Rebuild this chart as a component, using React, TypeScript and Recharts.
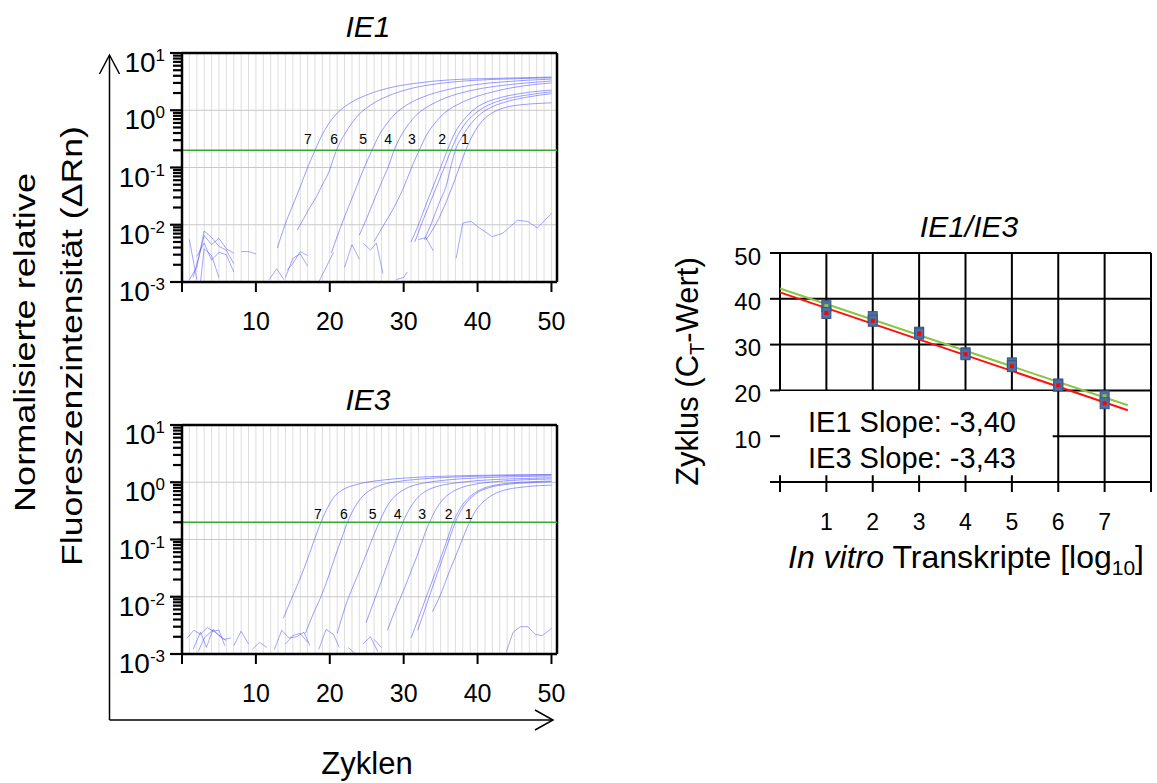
import {
  LineChart,
  Line,
  XAxis,
  YAxis,
  ReferenceLine,
  ReferenceDot,
  ReferenceArea,
  ComposedChart,
  Scatter,
  CartesianGrid,
} from "recharts";

type Pt = [number, number];

const FONT = "'Liberation Sans', Arial, Helvetica, sans-serif";
const CURVE = "#3a3aff";

// ---- IE1 amplification runs: [cycle, ΔRn] ----
const ie1Dil7: Pt[] = [[12.9, 0.0039], [14, 0.0105], [15, 0.022], [16, 0.046], [17, 0.1], [18, 0.2], [19, 0.38], [20, 0.62], [21, 0.89], [22, 1.15], [23, 1.4], [25, 1.85], [28, 2.45], [32, 3.0], [36, 3.38], [43, 3.62], [50, 3.8]];
const ie1Dil6: Pt[] = [[15.6, 0.0081], [16.5, 0.013], [17.3, 0.02], [18.2, 0.031], [19, 0.05], [19.8, 0.079], [20.9, 0.2], [22, 0.38], [23, 0.6], [24, 0.86], [25, 1.1], [26, 1.35], [28, 1.8], [31, 2.4], [35, 2.95], [39, 3.3], [45, 3.55], [50, 3.7]];
const ie1Dil5: Pt[] = [[20.2, 0.0032], [21.5, 0.0093], [22.5, 0.02], [23.5, 0.042], [24.6, 0.095], [25.7, 0.2], [26.7, 0.37], [27.7, 0.58], [28.7, 0.83], [29.7, 1.07], [30.7, 1.3], [32.7, 1.72], [35.7, 2.25], [39.7, 2.8], [43.7, 3.15], [50, 3.5]];
const ie1Dil4: Pt[] = [[24.0, 0.0066], [25, 0.013], [26, 0.027], [27, 0.055], [28, 0.11], [28.7, 0.2], [29.7, 0.37], [30.7, 0.58], [31.7, 0.82], [32.7, 1.04], [33.7, 1.25], [35.7, 1.65], [38.7, 2.15], [42.7, 2.65], [46.7, 3.0], [50, 3.25]];
const ie1Dil3: Pt[] = [[26.0, 0.0051], [27, 0.0085], [28, 0.014], [29, 0.024], [30, 0.045], [31, 0.095], [32.1, 0.2], [33.1, 0.37], [34.1, 0.57], [35.1, 0.8], [36.1, 1.02], [37.1, 1.22], [39.1, 1.6], [42.1, 2.1], [46.1, 2.65], [50, 3.0]];
const ie1Dil2a: Pt[] = [[31, 0.005], [32, 0.01], [33, 0.022], [34, 0.047], [35, 0.1], [35.9, 0.2], [37, 0.42], [38, 0.65], [39, 0.9], [40, 1.15], [41, 1.35], [43, 1.65], [46, 1.98], [50, 2.25]];
const ie1Dil2b: Pt[] = [[31.5, 0.005], [32.5, 0.011], [33.5, 0.023], [34.5, 0.048], [35.5, 0.1], [36.4, 0.2], [37.4, 0.38], [38.4, 0.6], [39.4, 0.82], [40.4, 1.03], [41.4, 1.22], [43.4, 1.52], [46.4, 1.82], [50, 2.1]];
const ie1Dil1a: Pt[] = [[32.8, 0.0055], [33.8, 0.011], [34.8, 0.024], [35.8, 0.05], [36.5, 0.12], [37.0, 0.2], [38, 0.36], [39, 0.56], [40, 0.78], [41, 0.98], [42, 1.15], [44, 1.42], [47, 1.72], [50, 1.95]];
const ie1Dil1b: Pt[] = [[33.0, 0.0054], [34, 0.0085], [35, 0.015], [36, 0.03], [37, 0.065], [37.8, 0.125], [38.4, 0.2], [39.4, 0.38], [40.4, 0.6], [41.4, 0.8], [42.4, 0.96], [44, 1.14], [46, 1.25], [48, 1.31], [50, 1.35]];

// background / no-template traces (IE1)
const ie1Noise1: Pt[] = [[1, 0.0055], [2, 0.0011]];
const ie1Noise2: Pt[] = [[1, 0.0011], [2, 0.0018], [3, 0.0078], [4, 0.006], [5, 0.0042], [6, 0.0036], [7, 0.0021]];
const ie1Noise3: Pt[] = [[1.5, 0.0012], [2.5, 0.0035], [3, 0.0065], [4, 0.0045], [5, 0.0058], [6, 0.0038], [7, 0.0032]];
const ie1Noise4: Pt[] = [[2, 0.0028], [3, 0.0048], [4, 0.0024], [5, 0.0033], [6, 0.003], [7, 0.0015]];
const ie1Noise5: Pt[] = [[2.5, 0.001], [3, 0.0038], [4, 0.0029], [5, 0.0012]];
const ie1Noise6: Pt[] = [[8, 0.0034], [9, 0.0034], [10, 0.0031]];
const ie1Noise7: Pt[] = [[11.8, 0.0011], [12.8, 0.0017], [13.8, 0.0011]];
const ie1Noise8: Pt[] = [[14, 0.0012], [15, 0.0026], [16, 0.0031], [17, 0.0019]];
const ie1Noise9: Pt[] = [[14.2, 0.0016], [15, 0.0021], [16, 0.0034], [17, 0.0029]];
const ie1Noise10: Pt[] = [[17.5, 0.001], [18.5, 0.001], [19.5, 0.0018], [20.5, 0.0033]];
const ie1Noise11: Pt[] = [[22, 0.0018], [23, 0.0045], [24, 0.0025]];
const ie1Noise12: Pt[] = [[24.5, 0.0048], [25.5, 0.0036], [26.3, 0.0048], [27.2, 0.0014]];
const ie1Noise13: Pt[] = [[29, 0.0011], [30, 0.0012], [30.5, 0.0015]];
const ie1Noise14: Pt[] = [[32, 0.0055], [33, 0.006], [34, 0.0035]];
const ie1Ntc: Pt[] = [[37.1, 0.0026], [38, 0.0107], [39.1, 0.0115], [40, 0.0093], [42, 0.0062], [43.4, 0.0071], [45.4, 0.012], [46.8, 0.0114], [48.1, 0.0088], [50, 0.0158]];

// ---- IE3 amplification runs ----
const ie3Dil7: Pt[] = [[13.7, 0.0042], [14.7, 0.0085], [15.7, 0.017], [16.7, 0.036], [17.8, 0.09], [18.8, 0.2], [19.7, 0.36], [20.6, 0.56], [21.6, 0.72], [23.3, 0.89], [25, 1.0], [27.4, 1.1], [30, 1.18], [34.2, 1.26], [40, 1.32], [50, 1.37]];
const ie3Dil6: Pt[] = [[16.7, 0.0023], [17.7, 0.0048], [18.8, 0.01], [19.8, 0.022], [20.6, 0.045], [21.5, 0.095], [22.4, 0.2], [23.4, 0.37], [24.4, 0.56], [25.4, 0.72], [27, 0.9], [29, 1.02], [32, 1.13], [36, 1.22], [42, 1.29], [50, 1.34]];
const ie3Dil5: Pt[] = [[21.0, 0.0023], [22.4, 0.0087], [23.4, 0.018], [24.4, 0.037], [25.5, 0.085], [26.7, 0.2], [27.7, 0.37], [28.7, 0.55], [29.7, 0.7], [31, 0.85], [33, 0.98], [36, 1.1], [40, 1.19], [45, 1.25], [50, 1.29]];
const ie3Dil4: Pt[] = [[24.9, 0.0035], [26, 0.0085], [27, 0.019], [28, 0.044], [29, 0.1], [29.9, 0.2], [30.9, 0.36], [31.9, 0.54], [32.9, 0.69], [34.5, 0.84], [37, 0.97], [40, 1.07], [45, 1.15], [50, 1.2]];
const ie3Dil3: Pt[] = [[27.8, 0.0026], [29, 0.0065], [30, 0.013], [31, 0.028], [32, 0.06], [32.8, 0.12], [33.5, 0.2], [34.5, 0.36], [35.5, 0.53], [36.5, 0.67], [38, 0.82], [40, 0.94], [43, 1.04], [46, 1.1], [50, 1.14]];
const ie3Dil2a: Pt[] = [[31.0, 0.0019], [32, 0.0042], [33, 0.0095], [34, 0.021], [35, 0.047], [35.9, 0.1], [36.7, 0.2], [37.7, 0.36], [38.7, 0.52], [39.7, 0.66], [41, 0.8], [43, 0.92], [46, 1.0], [50, 1.05]];
const ie3Dil2b: Pt[] = [[31.9, 0.0026], [33, 0.0067], [34, 0.016], [35, 0.037], [36, 0.087], [37, 0.2], [38, 0.36], [39, 0.52], [40, 0.66], [41.5, 0.8], [44, 0.92], [47, 0.98], [50, 1.02]];
const ie3Dil1: Pt[] = [[33.9, 0.0055], [35, 0.011], [36, 0.024], [37, 0.05], [38, 0.105], [38.9, 0.2], [39.9, 0.34], [40.9, 0.47], [42, 0.6], [43.5, 0.72], [46, 0.82], [50, 0.89]];

const ie3Noise1: Pt[] = [[0.7, 0.0019], [1.6, 0.0026], [2.5, 0.0022], [3.4, 0.0029], [4.5, 0.0024], [5.7, 0.0018], [6.6, 0.0019]];
const ie3Noise2: Pt[] = [[1.5, 0.0012], [2.5, 0.0024], [3.3, 0.0013], [4.2, 0.0027], [5.0, 0.0021], [6, 0.0017]];
const ie3Noise3: Pt[] = [[2.2, 0.0011], [3, 0.0019], [4, 0.0025], [5, 0.0026], [5.8, 0.0014]];
const ie3Noise4: Pt[] = [[7, 0.0014], [8, 0.0025], [9, 0.0015]];
const ie3Noise5: Pt[] = [[9.5, 0.0012], [10.5, 0.0016], [11.5, 0.0013]];
const ie3Noise6: Pt[] = [[12.5, 0.0012], [13.5, 0.0026], [14.5, 0.0019], [15.5, 0.002], [16.5, 0.0024], [17.3, 0.0014]];
const ie3Noise7: Pt[] = [[14, 0.0015], [15, 0.0021], [16, 0.0023], [17, 0.0016]];
const ie3Noise8: Pt[] = [[18.5, 0.0012], [19.5, 0.0027], [20.5, 0.0022], [21.3, 0.0013]];
const ie3Noise9: Pt[] = [[22.5, 0.0013], [23.5, 0.001]];
const ie3Noise10: Pt[] = [[24.5, 0.0015], [25.5, 0.002], [26.5, 0.0011]];
const ie3Noise11: Pt[] = [[26, 0.0018], [27, 0.0013]];
const ie3Ntc: Pt[] = [[43.9, 0.0011], [44.8, 0.0024], [45.8, 0.003], [46.8, 0.003], [47.8, 0.0022], [48.8, 0.0021], [50, 0.0028]];

// dilution labels next to the threshold
const dilutionLabels = ["7", "6", "5", "4", "3", "2", "1"];
const ie1LabelCycles = [17.05, 20.6, 24.5, 27.9, 31.1, 35.2, 38.3];
const ie3LabelCycles = [18.4, 21.9, 25.8, 29.2, 32.5, 36.1, 38.8];
const ie1LabelLevel = 0.315;
const ie3LabelLevel = 0.279;

const threshold = 0.2;
const cycleTicks = [0, 10, 20, 30, 40, 50];
const cycleMax = 50.75;
const decades = [0.001, 0.01, 0.1, 1, 10];
const minorSteps = [2, 3, 4, 5, 6, 7, 8, 9];
const logTicks = decades.flatMap((d) =>
  d < 10 ? [d, ...minorSteps.map((m) => +(m * d).toPrecision(3))] : [d]
);
const cycleGrid = Array.from({ length: 50 }, (_, i) => i + 1);

// ---- standard curve (Ct vs. log10 copies) ----
const dilutions = [1, 2, 3, 4, 5, 6, 7];
const ie1Ct = [38.4, 36.0, 32.6, 28.1, 25.9, 21.3, 18.7];
const ie3Ct = [36.9, 35.2, 32.4, 27.9, 25.3, 21.1, 17.2];
const ie1Slope = -3.4;
const ie1Intercept = 42.25;
const ie3Slope = -3.43;
const ie3Intercept = 41.4;
const fitRange = [0, 7.5];
const logTicksX = [0, 1, 2, 3, 4, 5, 6, 7, 8];
const ctTicks = [0, 10, 20, 30, 40, 50];

const toPts = (c: Pt[]) => c.map(([x, y]) => ({ x, y }));
const fmtSlope = (s: number) => s.toFixed(2).replace(".", ",");

const LogTick = (p: any) => {
  const { x, y, payload } = p;
  const lg = Math.log10(payload.value);
  const exp = Math.round(lg);
  const major = Math.abs(lg - exp) < 1e-6;
  return (
    <g>
      <line x1={x - (major ? 12 : 9)} x2={x} y1={y} y2={y} stroke="#000" strokeWidth={2.2} />
      {major && (
        <text x={x - 17} y={y + 19} textAnchor="end" fontSize={28} fontFamily={FONT} fill="#000">
          10
          <tspan dy={-11} fontSize={17}>
            {exp}
          </tspan>
        </text>
      )}
    </g>
  );
};

const CycleTick = (p: any) => {
  const { x, y, payload } = p;
  if (payload.value === 0) return <g />;
  return (
    <text x={x} y={y + 36} textAnchor="middle" fontSize={25} fontFamily={FONT} fill="#000">
      {payload.value}
    </text>
  );
};

interface AmpPanelProps {
  top: number;
  curves: Pt[][];
  noise: Pt[][];
  labelCycles: number[];
  labelLevel: number;
}

const AmpPanel = ({ top, curves, noise, labelCycles, labelLevel }: AmpPanelProps) => (
  <div style={{ position: "absolute", left: 99, top }}>
    <LineChart width={490} height={310} margin={{ top: 13, right: 32, left: 0, bottom: 13 }}>
      <XAxis
        dataKey="x"
        type="number"
        domain={[0, cycleMax]}
        ticks={cycleTicks}
        interval={0}
        allowDataOverflow
        tickSize={10}
        height={55}
        axisLine={{ stroke: "#000", strokeWidth: 2.5 }}
        tickLine={{ stroke: "#000", strokeWidth: 2 }}
        tick={CycleTick}
      />
      <YAxis
        dataKey="y"
        type="number"
        scale="log"
        domain={[0.001, 10]}
        allowDataOverflow
        ticks={logTicks}
        interval={0}
        width={83}
        tickSize={0}
        tickMargin={0}
        tickLine={false}
        axisLine={{ stroke: "#000", strokeWidth: 2.5 }}
        tick={LogTick}
      />
      {cycleGrid.map((c) => (
        <ReferenceLine key={`c${c}`} x={c} stroke="#dedede" strokeWidth={1} />
      ))}
      {[0.01, 0.1, 1].map((v) => (
        <ReferenceLine key={`d${v}`} y={v} stroke="#c8c8c8" strokeWidth={1} />
      ))}
      <ReferenceLine y={10} stroke="#000" strokeWidth={2.5} />
      <ReferenceLine x={cycleMax} stroke="#000" strokeWidth={2.5} />
      {noise.map((n, i) => (
        <Line
          key={`n${i}`}
          data={toPts(n)}
          dataKey="y"
          type="linear"
          stroke={CURVE}
          strokeOpacity={0.45}
          strokeWidth={1}
          dot={false}
          isAnimationActive={false}
        />
      ))}
      {curves.map((c, i) => (
        <Line
          key={`a${i}`}
          data={toPts(c)}
          dataKey="y"
          type="monotone"
          stroke={CURVE}
          strokeOpacity={0.5}
          strokeWidth={1}
          dot={false}
          isAnimationActive={false}
        />
      ))}
      <ReferenceLine y={threshold} stroke="#33a833" strokeWidth={1.5} />
      {dilutionLabels.map((lab, i) => (
        <ReferenceDot
          key={`l${lab}`}
          x={labelCycles[i]}
          y={labelLevel}
          r={1}
          shape={(p: any) => (
            <text x={p.cx} y={p.cy + 5} textAnchor="middle" fontSize={14} fontFamily={FONT} fill="#000">
              {lab}
            </text>
          )}
        />
      ))}
    </LineChart>
  </div>
);

const StdMarker = (inner: string) => (p: any) => (
  <g>
    <rect x={p.cx - 4.5} y={p.cy - 5.5} width={9} height={11} fill="#4f6ea2" stroke="#36568a" strokeWidth={1} />
    <rect x={p.cx - 2} y={p.cy - 2} width={4} height={4} fill={inner} />
  </g>
);

const StdXTick = (p: any) => {
  const { x, y, payload } = p;
  if (payload.value < 1 || payload.value > 7) return <g />;
  return (
    <text x={x} y={y + 36} textAnchor="middle" fontSize={23} fontFamily={FONT} fill="#000">
      {payload.value}
    </text>
  );
};

const StdYTick = (p: any) => {
  const { x, y, payload } = p;
  if (payload.value === 0) return <g />;
  return (
    <text x={x} y={y + 11.5} textAnchor="end" fontSize={24} fontFamily={FONT} fill="#000">
      {payload.value}
    </text>
  );
};

const StandardCurve = () => {
  const pts1 = dilutions.map((x, i) => ({ x, y: ie1Ct[i] }));
  const pts3 = dilutions.map((x, i) => ({ x, y: ie3Ct[i] }));
  const fit1 = fitRange.map((x) => ({ x, y: ie1Intercept + ie1Slope * x }));
  const fit3 = fitRange.map((x) => ({ x, y: ie3Intercept + ie3Slope * x }));
  return (
    <div style={{ position: "absolute", left: 690, top: 240 }}>
      <ComposedChart width={465} height={320} margin={{ top: 13, right: 4, left: 0, bottom: 38 }}>
        <CartesianGrid stroke="#000" strokeWidth={2} />
        <XAxis
          dataKey="x"
          type="number"
          domain={[0, 8]}
          ticks={logTicksX}
          interval={0}
          tickSize={10}
          height={40}
          axisLine={{ stroke: "#000", strokeWidth: 2 }}
          tickLine={{ stroke: "#000", strokeWidth: 2 }}
          tick={StdXTick}
        />
        <YAxis
          dataKey="y"
          type="number"
          domain={[0, 50]}
          ticks={ctTicks}
          interval={0}
          width={90}
          axisLine={false}
          tickSize={10}
          tickMargin={9}
          tickLine={{ stroke: "#000", strokeWidth: 2 }}
          tick={StdYTick}
        />
        <ReferenceArea
          x1={-0.05}
          x2={5.88}
          y1={1.5}
          y2={19.85}
          fill="#fff"
          fillOpacity={1}
          stroke="none"
          ifOverflow="visible"
        />
        <Line data={fit1} dataKey="y" type="linear" stroke="#8cc63f" strokeWidth={2} dot={false} isAnimationActive={false} />
        <Line data={fit3} dataKey="y" type="linear" stroke="#ff1010" strokeWidth={2} dot={false} isAnimationActive={false} />
        <Scatter data={pts1} dataKey="y" shape={StdMarker("#8cc63f")} isAnimationActive={false} />
        <Scatter data={pts3} dataKey="y" shape={StdMarker("#ff0000")} isAnimationActive={false} />
      </ComposedChart>
    </div>
  );
};

export default function App() {
  const txt = { fontFamily: FONT, fill: "#000" };
  return (
    <div
      style={{
        position: "absolute",
        left: 0,
        top: 0,
        width: 1157,
        height: 783,
        background: "#fff",
        overflow: "hidden",
      }}
    >
      <AmpPanel
        top={40}
        curves={[ie1Dil7, ie1Dil6, ie1Dil5, ie1Dil4, ie1Dil3, ie1Dil2a, ie1Dil2b, ie1Dil1a, ie1Dil1b]}
        noise={[ie1Noise1, ie1Noise2, ie1Noise3, ie1Noise4, ie1Noise5, ie1Noise6, ie1Noise7, ie1Noise8, ie1Noise9, ie1Noise10, ie1Noise11, ie1Noise12, ie1Noise13, ie1Noise14, ie1Ntc]}
        labelCycles={ie1LabelCycles}
        labelLevel={ie1LabelLevel}
      />
      <AmpPanel
        top={412}
        curves={[ie3Dil7, ie3Dil6, ie3Dil5, ie3Dil4, ie3Dil3, ie3Dil2a, ie3Dil2b, ie3Dil1]}
        noise={[ie3Noise1, ie3Noise2, ie3Noise3, ie3Noise4, ie3Noise5, ie3Noise6, ie3Noise7, ie3Noise8, ie3Noise9, ie3Noise10, ie3Noise11, ie3Ntc]}
        labelCycles={ie3LabelCycles}
        labelLevel={ie3LabelLevel}
      />
      <StandardCurve />

      <svg width={1157} height={783} style={{ position: "absolute", left: 0, top: 0, pointerEvents: "none" }}>
        {/* panel titles */}
        <text x={368} y={37} textAnchor="middle" fontSize={30} fontStyle="italic" {...txt}>IE1</text>
        <text x={368} y={410} textAnchor="middle" fontSize={30} fontStyle="italic" {...txt}>IE3</text>
        <text x={969} y={237} textAnchor="middle" fontSize={30} fontStyle="italic" {...txt}>IE1/IE3</text>

        {/* shared axes arrows */}
        <line x1={109.5} y1={720} x2={109.5} y2={56} stroke="#000" strokeWidth={1.5} />
        <polyline points="99.5,74 109.5,55 119.5,74" fill="none" stroke="#000" strokeWidth={1.5} />
        <line x1={109.5} y1={720} x2={552} y2={720} stroke="#000" strokeWidth={1.5} />
        <polyline points="535,710 553,720 535,730" fill="none" stroke="#000" strokeWidth={1.5} />

        <text transform="translate(35,342.5) rotate(-90)" textAnchor="middle" fontSize={30} textLength={339} lengthAdjust="spacingAndGlyphs" {...txt}>
          Normalisierte relative
        </text>
        <text transform="translate(82,346) rotate(-90)" textAnchor="middle" fontSize={30} textLength={440} lengthAdjust="spacingAndGlyphs" {...txt}>
          {"Fluoreszenzintensität  (ΔRn)"}
        </text>
        <text x={367} y={774} textAnchor="middle" fontSize={31} {...txt}>Zyklen</text>

        <text transform="translate(698,371.5) rotate(-90)" textAnchor="middle" fontSize={31} {...txt}>
          Zyklus (C<tspan fontSize={20} dy={6}>T</tspan>
          <tspan dy={-6}>-Wert)</tspan>
        </text>
        <text x={966} y={568} textAnchor="middle" fontSize={32} {...txt}>
          <tspan fontStyle="italic">In vitro</tspan>
          {" Transkripte [log"}
          <tspan fontSize={21} dy={7}>10</tspan>
          <tspan dy={-7}>]</tspan>
        </text>

        <text x={808} y={432} fontSize={29} {...txt}>{`IE1 Slope: ${fmtSlope(ie1Slope)}`}</text>
        <text x={808} y={468} fontSize={29} {...txt}>{`IE3 Slope: ${fmtSlope(ie3Slope)}`}</text>
      </svg>
    </div>
  );
}
